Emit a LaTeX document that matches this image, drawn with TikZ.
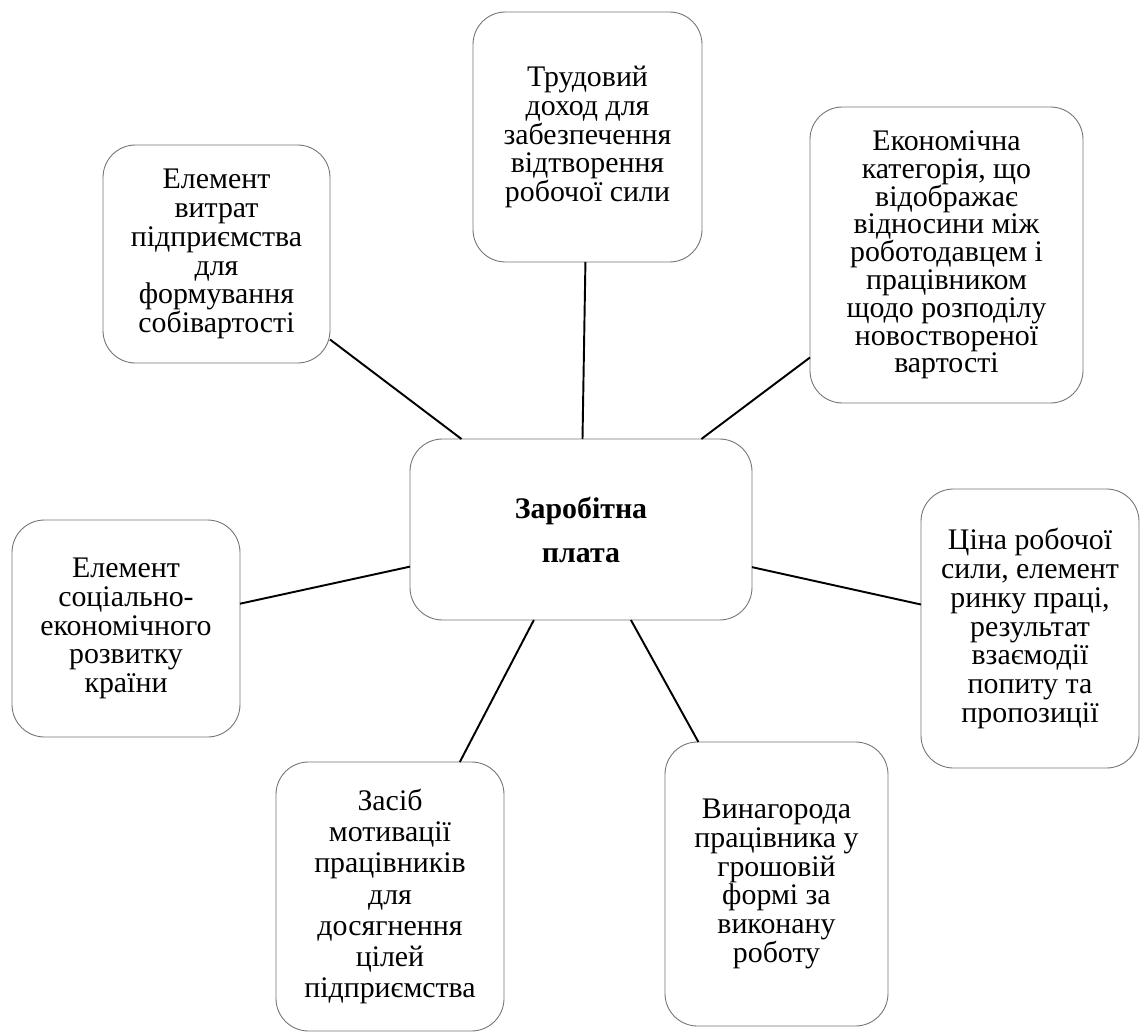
\documentclass[tikz,border=0pt]{standalone}
\usepackage{fontspec}
\setmainfont{Liberation Serif}
\usepackage{tikz}
\usetikzlibrary{positioning}

\begin{document}
\begin{tikzpicture}[thick,
  box/.style={rectangle,rounded corners=0.65cm,draw=black!55,line width=0.5pt,align=center,
    outer sep=0pt,inner sep=2pt,font=\fontsize{17pt}{16.4pt}\selectfont},
  hub/.style={box,font=\fontsize{17pt}{25pt}\selectfont\bfseries}]
\useasboundingbox (0,0) rectangle (22.82,-20.64);
\node[hub,minimum width=6.84cm,minimum height=3.62cm] at (11.62,-10.59) (Z) {Заробітна\\плата};
\node[box,minimum width=4.58cm,minimum height=5.0cm] at (11.75,-2.74) (Dohid) {Трудовий\\доход для\\забезпечення\\відтворення\\робочої сили};
\node[box,minimum width=4.54cm,minimum height=4.36cm] at (4.33,-5.08) (Vytraty) {Елемент\\витрат\\підприємства\\для\\формування\\собівартості};
\node[box,minimum width=5.46cm,minimum height=5.92cm,font=\fontsize{17pt}{15.8pt}\selectfont] at (18.93,-5.10) (Kategoria) {Економічна\\категорія, що\\відображає\\відносини між\\роботодавцем і\\працівником\\щодо розподілу\\новоствореної\\вартості};
\node[box,minimum width=4.36cm,minimum height=5.58cm] at (20.60,-12.57) (Tsina) {Ціна робочої\\сили, елемент\\ринку праці,\\результат\\взаємодії\\попиту та\\пропозиції};
\node[box,minimum width=4.46cm,minimum height=5.68cm] at (15.53,-17.68) (Vynagoroda) {Винагорода\\працівника у\\грошовій\\формі за\\виконану\\роботу};
\node[box,minimum width=4.56cm,minimum height=5.38cm,font=\fontsize{17pt}{17.8pt}\selectfont] at (7.80,-17.93) (Motyvatsia) {Засіб\\мотивації\\працівників\\для\\досягнення\\цілей\\підприємства};
\node[box,minimum width=4.56cm,minimum height=4.34cm] at (2.52,-12.57) (Rozvytok) {Елемент\\соціально-\\економічного\\розвитку\\країни};
\draw[line width=1.1pt] (Z) -- (Dohid);
\draw[line width=1.1pt] (Z) -- (Vytraty);
\draw[line width=1.1pt] (Z) -- (Kategoria);
\draw[line width=1.1pt] (Z) -- (Tsina);
\draw[line width=1.1pt] (Z) -- (Vynagoroda);
\draw[line width=1.1pt] (Z) -- (Motyvatsia);
\draw[line width=1.1pt] (Z) -- (Rozvytok);
\end{tikzpicture}
\end{document}
